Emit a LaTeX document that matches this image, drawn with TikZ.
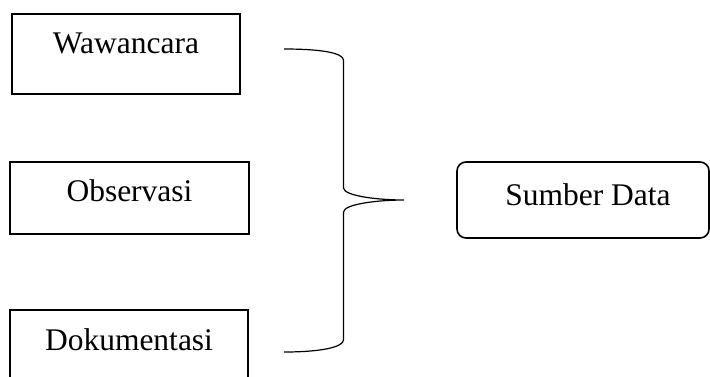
\documentclass[tikz,border=0pt]{standalone}
\usepackage{fontspec}
\setmainfont{Liberation Serif}
\begin{document}
\begin{tikzpicture}[x=1pt,y=-1pt,
  srcbox/.style={draw,line width=1.6pt,inner sep=0pt,text height=22pt,font=\fontsize{31.5}{36}\selectfont},
  databox/.style={draw,line width=1.6pt,rounded corners=9pt,inner sep=0pt,text height=22pt,text depth=12pt,font=\fontsize{31.5}{36}\selectfont},
  bracestyle/.style={line width=1.2pt}]
\useasboundingbox (0,0) rectangle (710,376);
\node[srcbox,minimum width=228pt,minimum height=80pt,text depth=24pt] (waw) at (126,54) {Wawancara};
\node[srcbox,minimum width=239pt,minimum height=72pt,text depth=16pt] (obs) at (129.5,198) {Observasi};
\node[srcbox,minimum width=238pt,minimum height=80pt,text depth=22pt] (dok) at (129,350) {Dokumentasi};
\node[databox,minimum width=252pt,minimum height=76pt] (sd) at (583,200) {\hspace*{10pt}Sumber Data};
\coordinate (btop) at (284,49);
\coordinate (bbot) at (284,352);
\coordinate (btip) at (404,200);
\draw[bracestyle] (btop) .. controls (322,49) and (343,53) .. (343.5,60)
  -- (343.5,188) .. controls (344,196) and (378,200) .. (btip)
  .. controls (378,200) and (344,204) .. (343.5,212)
  -- (343.5,340) .. controls (343,347) and (322,352) .. (bbot);
\end{tikzpicture}
\end{document}
